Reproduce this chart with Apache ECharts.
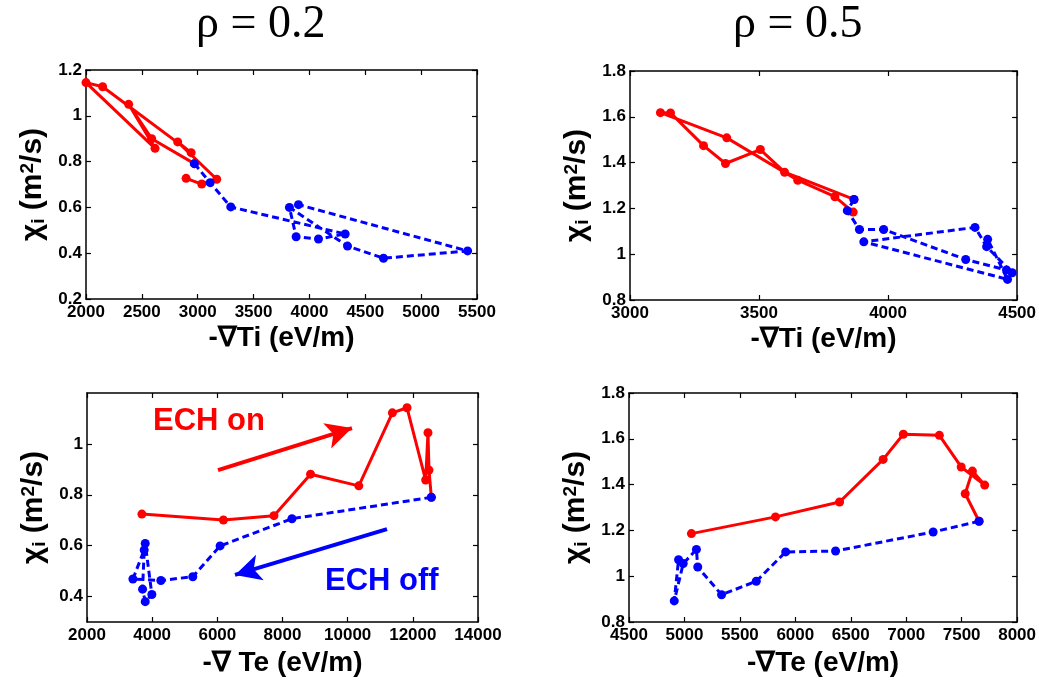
<!DOCTYPE html>
<html>
<head>
<meta charset="utf-8">
<script src="https://cdn.jsdelivr.net/npm/echarts@6/dist/echarts.min.js"></script>
<style>
  html, body { margin: 0; padding: 0; background: #fff; }
  #chart { width: 1039px; height: 688px; }
</style>
</head>
<body>
<div id="chart"></div>
<script>
// rho = 0.2, chi_i vs -grad Ti
const r02TiOn  = [[2896,0.727],[3036,0.702],[3170,0.723],[2821,0.886],[2941,0.839],[2149,1.127],[2000,1.145],[2618,0.858],[2382,1.05],[2588,0.90],[2970,0.791]];
const r02TiOff = [[2970,0.791],[3111,0.708],[3296,0.602],[4320,0.484],[4081,0.462],[3881,0.472],[3821,0.600],[4341,0.431],[4663,0.378],[5416,0.410],[3902,0.612]];
// rho = 0.5, chi_i vs -grad Ti
const r05TiOn  = [[3865,1.184],[3794,1.251],[3650,1.323],[3375,1.508],[3118,1.618],[3157,1.617],[3285,1.474],[3370,1.396],[3505,1.457],[3599,1.358],[3868,1.239]];
const r05TiOff = [[3868,1.239],[3842,1.190],[3889,1.108],[3983,1.108],[4301,0.977],[4459,0.931],[4481,0.919],[4382,1.033],[4337,1.117],[3906,1.054],[4463,0.890],[4386,1.065]];
// rho = 0.2, chi_i vs -grad Te
const r02TeOn  = [[3685,0.724],[6186,0.701],[7738,0.718],[8861,0.881],[10342,0.835],[11373,1.122],[11822,1.142],[12394,0.858],[12465,1.044],[12496,0.897],[12568,0.790]];
const r02TeOff = [[12568,0.790],[8290,0.706],[6085,0.599],[5247,0.478],[4267,0.463],[3409,0.469],[3756,0.583],[3705,0.429],[3787,0.380],[3991,0.408],[3787,0.609]];
// rho = 0.5, chi_i vs -grad Te
const r05TeOn  = [[5063,1.186],[5821,1.259],[6399,1.324],[6792,1.510],[6974,1.620],[7299,1.615],[7496,1.477],[7708,1.398],[7597,1.459],[7532,1.360],[7657,1.240]];
const r05TeOff = [[7657,1.240],[7243,1.193],[6363,1.110],[5913,1.106],[5648,0.978],[5335,0.919],[5120,1.040],[5108,1.117],[4989,1.055],[4908,0.892],[4947,1.072]];

// axis ranges [min, max, interval] per panel: top-left, top-right, bottom-left, bottom-right
const xRanges = [[2000,5500,500],[3000,4500,500],[2000,14000,2000],[4500,8000,500]];
const yRanges = [[0.2,1.2,0.2],[0.8,1.8,0.2],[0.3,1.2,null],[0.8,1.8,0.2]];
const p3YTicks = [0.4,0.6,0.8,1];
const xNames = ['-∇Ti (eV/m)','-∇Ti (eV/m)','-∇ Te (eV/m)','-∇Te (eV/m)'];
const panelTitles = ['ρ = 0.2','ρ = 0.5'];

// arrows in bottom-left panel (data units)
const onArrow  = [[6020,0.897],[10133,1.062]];
const offArrow = [[11207,0.665],[6542,0.485]];

const FONT = 'Liberation Sans, Arial, sans-serif';
const RED = '#ff0000';
const BLUE = '#0000ff';

const grids = [
  { left: 86, top: 70, width: 391, height: 229 },
  { left: 630, top: 71, width: 389, height: 229 },
  { left: 87, top: 393, width: 391, height: 229 },
  { left: 629, top: 393, width: 392, height: 229 }
];

const frame = { show: true, lineStyle: { color: '#000', width: 1.5 } };
const tick = { show: true, inside: true, length: 5, lineStyle: { color: '#000', width: 1.2 } };
const tickLabel = { color: '#000', fontFamily: FONT, fontWeight: 'bold', fontSize: 17 };

const xAxes = [];
const yAxes = [];
xRanges.forEach((r, i) => {
  const base = { type: 'value', gridIndex: i, min: r[0], max: r[1], interval: r[2], splitLine: { show: false }, axisLine: frame };
  xAxes.push(Object.assign({}, base, {
    position: 'bottom',
    axisTick: tick,
    axisLabel: Object.assign({ margin: 5, formatter: v => String(v) }, tickLabel),
    name: xNames[i],
    nameLocation: 'middle',
    nameGap: i < 2 ? 25 : 27,
    nameTextStyle: { color: '#000', fontFamily: FONT, fontWeight: 'bold', fontSize: 28 }
  }));
  xAxes.push(Object.assign({}, base, { position: 'top', axisTick: tick, axisLabel: { show: false } }));
});
yRanges.forEach((r, i) => {
  const base = { type: 'value', gridIndex: i, min: r[0], max: r[1], splitLine: { show: false }, axisLine: frame };
  if (r[2]) base.interval = r[2];
  const t = Object.assign({}, tick);
  const lbl = Object.assign({ margin: 4, formatter: v => String(+v.toFixed(2)) }, tickLabel);
  if (!r[2]) { t.customValues = p3YTicks; lbl.customValues = p3YTicks; }
  yAxes.push(Object.assign({}, base, {
    position: 'left',
    axisTick: t,
    axisLabel: lbl,
    name: '{a|χ}{s|i}{a| (m}{p|2}{a|/s)}',
    nameLocation: 'middle',
    nameGap: 38,
    nameTextStyle: {
      color: '#000',
      rich: {
        a: { fontFamily: FONT, fontWeight: 'bold', fontSize: 30, color: '#000' },
        s: { fontFamily: FONT, fontWeight: 'bold', fontSize: 19, color: '#000', verticalAlign: 'bottom' },
        p: { fontFamily: FONT, fontWeight: 'bold', fontSize: 19, color: '#000', verticalAlign: 'top' }
      }
    }
  }));
  yAxes.push(Object.assign({}, base, { position: 'right', axisTick: t, axisLabel: { show: false } }));
});

function curve(data, panel, color, dashed, extra) {
  return Object.assign({
    type: 'line',
    xAxisIndex: panel * 2,
    yAxisIndex: panel * 2,
    data: data,
    symbol: 'circle',
    symbolSize: 9,
    clip: false,
    itemStyle: { color: color },
    lineStyle: { color: color, width: 3, type: dashed ? [7, 4] : 'solid' },
    z: dashed ? 3 : 2
  }, extra || {});
}

function arrow(pts, color) {
  return {
    silent: true,
    symbol: ['none', 'arrow'],
    symbolSize: [20, 26],
    label: { show: false },
    lineStyle: { color: color, width: 4, type: 'solid' },
    data: [[{ coord: pts[0] }, { coord: pts[1] }]]
  };
}

const series = [
  curve(r02TiOn, 0, RED, false),
  curve(r02TiOff, 0, BLUE, true),
  curve(r05TiOn, 1, RED, false),
  curve(r05TiOff, 1, BLUE, true),
  curve(r02TeOn, 2, RED, false, { markLine: arrow(onArrow, RED) }),
  curve(r02TeOff, 2, BLUE, true, { markLine: arrow(offArrow, BLUE) }),
  curve(r05TeOn, 3, RED, false),
  curve(r05TeOff, 3, BLUE, true)
];

const chart = echarts.init(document.getElementById('chart'));
chart.setOption({
  animation: false,
  backgroundColor: '#fff',
  grid: grids,
  xAxis: xAxes,
  yAxis: yAxes,
  series: series,
  graphic: [
    { type: 'text', left: 260 - 64, top: 2, style: { text: panelTitles[0], font: '46px "Liberation Serif", "Times New Roman", serif', fill: '#000' } },
    { type: 'text', left: 797 - 64, top: 2, style: { text: panelTitles[1], font: '46px "Liberation Serif", "Times New Roman", serif', fill: '#000' } },
    { type: 'text', left: 153, top: 406, style: { text: 'ECH on', font: 'bold 31px "Liberation Sans", Arial, sans-serif', fill: RED } },
    { type: 'text', left: 325, top: 566, style: { text: 'ECH off', font: 'bold 31px "Liberation Sans", Arial, sans-serif', fill: BLUE } }
  ]
});
</script>
</body>
</html>
